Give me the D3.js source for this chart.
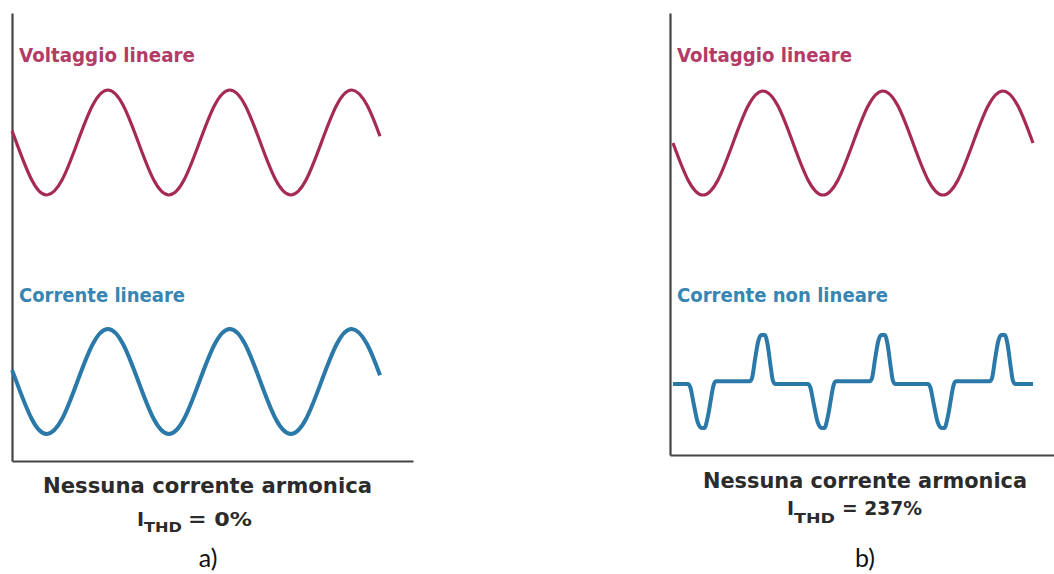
<!DOCTYPE html>
<html>
<head>
<meta charset="utf-8">
<script src="https://cdn.jsdelivr.net/npm/d3@7"></script>
<style>
  html, body { margin: 0; padding: 0; background: #fff; }
  svg { display: block; }
</style>
</head>
<body>
<svg id="chart" width="1054" height="574"></svg>
<script>
// ---------- DATA ----------
// Panel a) – phase (degrees) and normalised values
const leftAngles = [-103, -90, -45, 0, 45, 90, 135, 180, 225, 270, 315, 360, 405, 450, 495, 540, 585, 630, 675, 720, 765, 810, 855, 900, 945, 983];
const voltageLeft = [0.22, 0, -0.71, -1, -0.71, 0, 0.71, 1, 0.71, 0, -0.71, -1, -0.71, 0, 0.71, 1, 0.71, 0, -0.71, -1, -0.71, 0, 0.71, 1, 0.71, 0.12];
const currentLinear = [0.22, 0, -0.71, -1, -0.71, 0, 0.71, 1, 0.71, 0, -0.71, -1, -0.71, 0, 0.71, 1, 0.71, 0, -0.71, -1, -0.71, 0, 0.71, 1, 0.71, 0.12];

// Panel b)
const rightAngles = [-90, -45, 0, 45, 90, 135, 180, 225, 270, 315, 360, 405, 450, 495, 540, 585, 630, 675, 720, 765, 810, 855, 900, 945, 990];
const voltageRight = [0, -0.71, -1, -0.71, 0, 0.71, 1, 0.71, 0, -0.71, -1, -0.71, 0, 0.71, 1, 0.71, 0, -0.71, -1, -0.71, 0, 0.71, 1, 0.71, 0];

const currentNLAngles = [-90,
  -45, -38, -28, -16, -4, 4, 15, 24, 31, 38,
  140, 147, 156, 166, 175, 185, 194, 203, 210, 217,
  315, 322, 332, 344, 356, 364, 375, 384, 391, 398,
  500, 507, 516, 526, 535, 545, 554, 563, 570, 577,
  675, 682, 692, 704, 716, 724, 735, 744, 751, 758,
  860, 867, 876, 886, 895, 905, 914, 923, 930, 937,
  990];
const currentNonLinear = [0,
  0, -0.07, -0.4, -0.78, -0.9, -0.9, -0.65, -0.3, -0.04, 0.055,
  0.055, 0.12, 0.5, 0.88, 1, 1, 0.8, 0.35, 0.06, 0,
  0, -0.07, -0.4, -0.78, -0.9, -0.9, -0.65, -0.3, -0.04, 0.055,
  0.055, 0.12, 0.5, 0.88, 1, 1, 0.8, 0.35, 0.06, 0,
  0, -0.07, -0.4, -0.78, -0.9, -0.9, -0.65, -0.3, -0.04, 0.055,
  0.055, 0.12, 0.5, 0.88, 1, 1, 0.8, 0.35, 0.06, 0,
  0];

// Texts
const voltageLabel = "Voltaggio lineare";
const currentLabels = ["Corrente lineare", "Corrente non lineare"];
const captionText = "Nessuna corrente armonica";
const thdValues = ["= 0%", "= 237%"];
const panelLetters = ["a)", "b)"];

// ---------- STYLE ----------
const voltColor = "#a52a55";
const voltLabelColor = "#b23c66";
const currColor = "#2a79a8";
const currLabelColor = "#3785b2";
const axisColor = "#444";
const textColor = "#2b2b2b";
const boldFont = "'DejaVu Sans', sans-serif";

const svg = d3.select("#chart");

function zip(xs, ys) { return xs.map((x, i) => [x, ys[i]]); }

function drawPanel(cfg) {
  const g = svg.append("g");
  const x = d3.scaleLinear().domain(cfg.xDomain).range(cfg.xRange);
  const yV = d3.scaleLinear().domain([-1, 1]).range(cfg.yVRange);
  const yI = d3.scaleLinear().domain(cfg.yIDomain).range(cfg.yIRange);

  // axes (plain lines, no ticks)
  const axY = d3.axisLeft(d3.scaleLinear().range([cfg.axisTop, cfg.axisBottom])).ticks(0).tickSize(0);
  const axX = d3.axisBottom(d3.scaleLinear().range([cfg.axisLeft, cfg.axisRight])).ticks(0).tickSize(0);
  const gy = g.append("g").attr("transform", `translate(${cfg.axisLeft},0)`).call(axY);
  const gx = g.append("g").attr("transform", `translate(0,${cfg.axisBottom})`).call(axX);
  [gy, gx].forEach(a => a.select(".domain").attr("stroke", axisColor).attr("stroke-width", 2.2));

  // voltage
  g.append("path")
    .datum(zip(cfg.vAngles, cfg.vValues))
    .attr("fill", "none").attr("stroke", voltColor).attr("stroke-width", 3.2)
    .attr("stroke-linecap", "butt")
    .attr("d", d3.line().x(d => x(d[0])).y(d => yV(d[1])).curve(d3.curveNatural));

  // current
  g.append("path")
    .datum(zip(cfg.iAngles, cfg.iValues))
    .attr("fill", "none").attr("stroke", currColor).attr("stroke-width", 4)
    .attr("stroke-linejoin", "round")
    .attr("d", d3.line().x(d => x(d[0])).y(d => yI(d[1])).curve(cfg.iCurve));

  // labels
  g.append("text").attr("x", cfg.labelX).attr("y", 62)
    .attr("font-family", boldFont).attr("font-weight", "bold").attr("font-size", 19)
    .attr("fill", voltLabelColor).attr("textLength", cfg.vLabelW).attr("lengthAdjust", "spacingAndGlyphs")
    .text(voltageLabel);
  g.append("text").attr("x", cfg.labelX).attr("y", 302)
    .attr("font-family", boldFont).attr("font-weight", "bold").attr("font-size", 19)
    .attr("fill", currLabelColor).attr("textLength", cfg.iLabelW).attr("lengthAdjust", "spacingAndGlyphs")
    .text(cfg.iLabel);

  // caption
  g.append("text").attr("x", cfg.capX).attr("y", cfg.capY)
    .attr("font-family", boldFont).attr("font-weight", "bold").attr("font-size", 21)
    .attr("fill", textColor).attr("textLength", cfg.capW).attr("lengthAdjust", "spacingAndGlyphs")
    .text(captionText);
  // I_THD
  g.append("text").attr("x", cfg.iX).attr("y", cfg.thdY)
    .attr("font-family", boldFont).attr("font-weight", "bold").attr("font-size", 19)
    .attr("fill", textColor).text("I");
  g.append("text").attr("x", cfg.iX + 7).attr("y", cfg.thdY + cfg.subDy)
    .attr("font-family", boldFont).attr("font-weight", "bold").attr("font-size", 14)
    .attr("fill", textColor).attr("textLength", cfg.subW).attr("lengthAdjust", "spacingAndGlyphs")
    .text("THD");
  g.append("text").attr("x", cfg.eqX).attr("y", cfg.thdY)
    .attr("font-family", boldFont).attr("font-weight", "bold").attr("font-size", 19)
    .attr("fill", textColor).attr("textLength", cfg.eqW).attr("lengthAdjust", "spacingAndGlyphs")
    .text(cfg.thd);
  // letter
  g.append("text").attr("x", cfg.letterX).attr("y", 567).attr("text-anchor", "middle")
    .attr("font-family", "Lato, 'Open Sans', sans-serif").attr("font-size", 25)
    .attr("fill", "#111").text(cfg.letter);
}

drawPanel({
  xDomain: [-103, 983], xRange: [12, 380],
  yVRange: [195, 90], yIDomain: [-1, 1], yIRange: [434, 329],
  axisLeft: 12, axisRight: 413, axisTop: 13, axisBottom: 461,
  vAngles: leftAngles, vValues: voltageLeft,
  iAngles: leftAngles, iValues: currentLinear, iCurve: d3.curveNatural,
  labelX: 19, vLabelW: 176, iLabelW: 166, iLabel: currentLabels[0],
  capX: 43, capY: 493, capW: 329,
  iX: 137, thdY: 526, subDy: 6, subW: 38, eqX: 188, eqW: 64, thd: thdValues[0],
  letterX: 208, letter: panelLetters[0]
});

drawPanel({
  xDomain: [-90, 990], xRange: [673, 1033],
  yVRange: [195, 91], yIDomain: [0, 1], yIRange: [384, 335],
  axisLeft: 670, axisRight: 1054, axisTop: 13, axisBottom: 455,
  vAngles: rightAngles, vValues: voltageRight,
  iAngles: currentNLAngles, iValues: currentNonLinear, iCurve: d3.curveMonotoneX,
  labelX: 677, vLabelW: 175, iLabelW: 211, iLabel: currentLabels[1],
  capX: 703, capY: 488, capW: 324,
  iX: 787, thdY: 515, subDy: 8, subW: 41, eqX: 842, eqW: 80, thd: thdValues[1],
  letterX: 865, letter: panelLetters[1]
});
</script>
</body>
</html>
